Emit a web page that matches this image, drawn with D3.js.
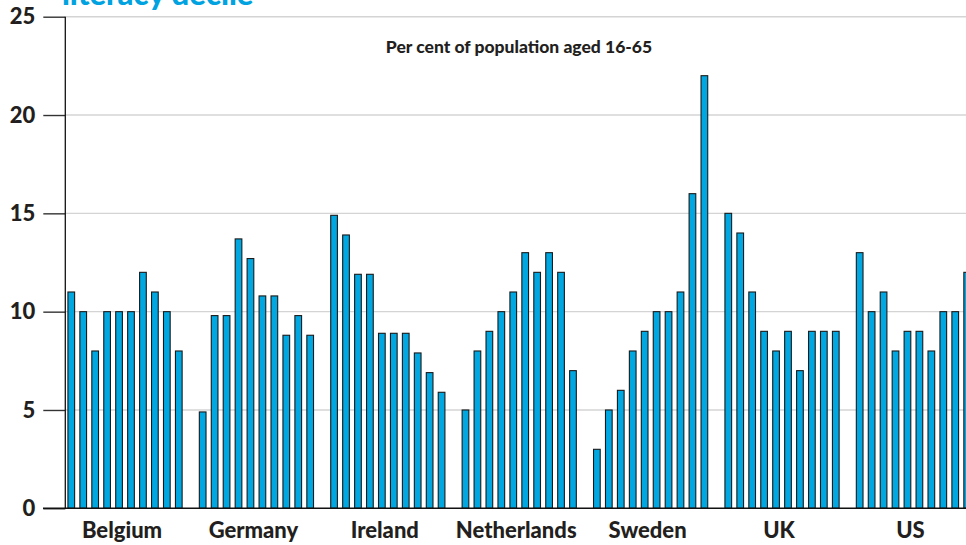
<!DOCTYPE html>
<html>
<head>
<meta charset="utf-8">
<script src="https://cdn.jsdelivr.net/npm/d3@7"></script>
<style>
  html, body { margin: 0; padding: 0; background: #fff; }
  svg { display: block; }
  text { font-family: Lato, "Open Sans", "DejaVu Sans", sans-serif; font-weight: 900; }
</style>
</head>
<body>
<svg id="chart" width="966" height="545"></svg>
<script>
// Share of the population in each literacy decile, by country
const countries = ["Belgium", "Germany", "Ireland", "Netherlands", "Sweden", "UK", "US"];
const deciles = [1, 2, 3, 4, 5, 6, 7, 8, 9, 10];

const belgium     = [11, 10, 8, 10, 10, 10, 12, 11, 10, 8];
const germany     = [4.9, 9.8, 9.8, 13.7, 12.7, 10.8, 10.8, 8.8, 9.8, 8.8];
const ireland     = [14.9, 13.9, 11.9, 11.9, 8.9, 8.9, 8.9, 7.9, 6.9, 5.9];
const netherlands = [5, 8, 9, 10, 11, 13, 12, 13, 12, 7];
const sweden      = [3, 5, 6, 8, 9, 10, 10, 11, 16, 22];
const uk          = [15, 14, 11, 9, 8, 9, 7, 9, 9, 9];
const us          = [13, 10, 11, 8, 9, 9, 8, 10, 10, 12];

const seriesValues = [belgium, germany, ireland, netherlands, sweden, uk, us];
const yTicks = [0, 5, 10, 15, 20, 25];

const title = "literacy decile";
const subtitle = "Per cent of population aged 16-65";

const svg = d3.select("#chart");
const W = 966, H = 545;

const plot = { left: 65.3, top: 16.7, bottom: 508.3 };
const groupStep = 131.4;
const gapFrac = 1 / 11;

const y = d3.scaleLinear().domain([0, 25]).range([plot.bottom, plot.top]);

// Country groups: ten bars, then one empty slot before the next country
const x = d3.scaleBand()
  .domain(countries)
  .range([plot.left, plot.left + groupStep * (countries.length - gapFrac)])
  .paddingInner(gapFrac)
  .paddingOuter(0);

const xi = d3.scaleBand()
  .domain(deciles)
  .range([0, x.bandwidth()])
  .paddingInner(0.44)
  .paddingOuter(0.22);

const rows = countries.flatMap((c, ci) =>
  deciles.map((d, di) => ({ country: c, decile: d, value: seriesValues[ci][di] })));

// Title, running off the top of the frame
svg.append("text")
  .attr("x", 62).attr("y", 5)
  .attr("fill", "#00a3e0")
  .style("font-size", "31px")
  .text(title);

// Grid lines
svg.append("g")
  .selectAll("line")
  .data(yTicks.filter(t => t > 0))
  .join("line")
  .attr("x1", plot.left).attr("x2", W)
  .attr("y1", d => y(d)).attr("y2", d => y(d))
  .attr("stroke", "#d4d4d4")
  .attr("stroke-width", 1.4);

// Y axis with outer ticks and labels
const yAxis = d3.axisLeft(y)
  .tickValues(yTicks)
  .tickSize(22)
  .tickPadding(8)
  .tickFormat(d3.format("d"));

const gy = svg.append("g")
  .attr("transform", `translate(${plot.left},0)`)
  .call(yAxis);
gy.select(".domain").remove();
gy.selectAll(".tick line").attr("stroke", "#333").attr("stroke-width", 1.4);
gy.selectAll(".tick text")
  .attr("fill", "#231f20")
  .style("font-size", "22px")
  .style("font-family", "Lato, sans-serif")
  .style("font-weight", "900");

svg.append("line")
  .attr("x1", plot.left).attr("x2", plot.left)
  .attr("y1", plot.top).attr("y2", plot.bottom)
  .attr("stroke", "#111").attr("stroke-width", 1.3);

svg.append("text")
  .attr("x", 519).attr("y", 52.5)
  .attr("text-anchor", "middle")
  .attr("fill", "#231f20")
  .style("font-size", "17.5px")
  .text(subtitle);

// Bars
svg.append("g")
  .selectAll("rect")
  .data(rows)
  .join("rect")
  .attr("x", d => x(d.country) + xi(d.decile))
  .attr("width", xi.bandwidth())
  .attr("y", d => y(d.value))
  .attr("height", d => y(0) - y(d.value))
  .attr("fill", "#00a7e1")
  .attr("stroke", "#1a1a1a")
  .attr("stroke-width", 1.1);

// Baseline
svg.append("line")
  .attr("x1", 43).attr("x2", W)
  .attr("y1", y(0)).attr("y2", y(0))
  .attr("stroke", "#111").attr("stroke-width", 1.4);

// Country labels
svg.append("g")
  .selectAll("text")
  .data(countries)
  .join("text")
  .attr("x", d => x(d) + x.bandwidth() / 2 - 3)
  .attr("y", 538)
  .attr("text-anchor", "middle")
  .attr("fill", "#231f20")
  .style("font-size", "22px")
  .text(d => d);
</script>
</body>
</html>
